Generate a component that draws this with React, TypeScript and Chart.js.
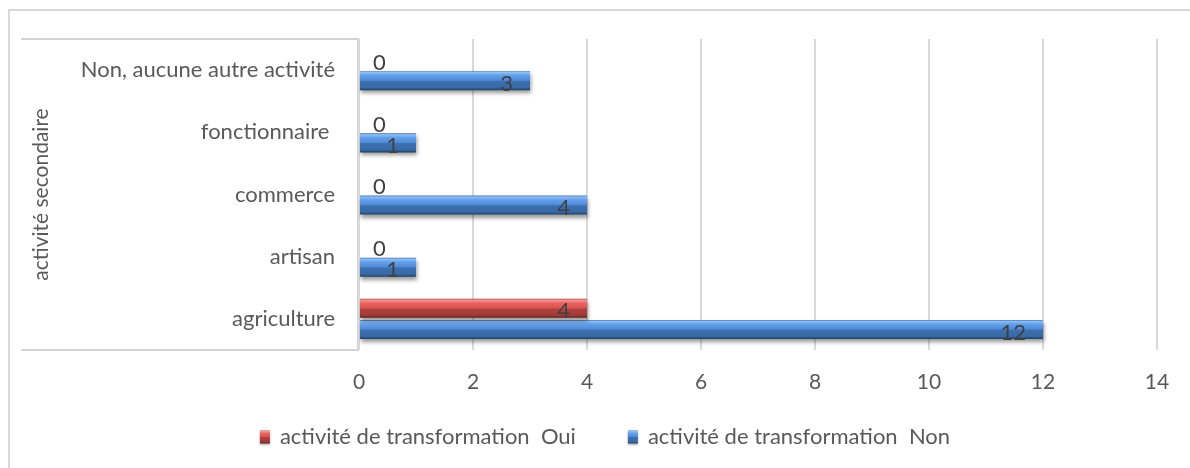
import { useEffect, useRef } from "react";
import { Chart, registerables } from "chart.js";

Chart.register(...registerables);

const categories = ["Non, aucune autre activité", "fonctionnaire ", "commerce", "artisan", "agriculture"];
const seriesNames = ["activité de transformation  Oui", "activité de transformation  Non"];
const ouiValues = [0, 0, 0, 0, 4];
const nonValues = [3, 1, 4, 1, 12];
const xTicks = [0, 2, 4, 6, 8, 10, 12, 14];
const axisTitle = "activité secondaire";

const FONT = "Lato, 'DejaVu Sans', sans-serif";
const FONT_SIZE = 22;
const TEXT = "#595959";
const LABEL = "#404040";
const LINE = "#d9d9d9";

const redStops: [number, string][] = [
  [0, "#a94442"], [0.07, "#f49896"], [0.22, "#ea6461"], [0.48, "#d9534f"],
  [0.54, "#b0413e"], [0.86, "#a03b38"], [1, "#5e1e1c"],
];
const blueStops: [number, string][] = [
  [0, "#3f6fae"], [0.07, "#8ebff5"], [0.22, "#63a0ea"], [0.48, "#4f8ad6"],
  [0.54, "#3d6fb0"], [0.86, "#386aa6"], [1, "#1f3d63"],
];
const palettes = [redStops, blueStops];
const flatColors = ["#c0504d", "#4f81bd"];

function makeGradient(ctx: CanvasRenderingContext2D, top: number, h: number, stops: [number, string][]) {
  const g = ctx.createLinearGradient(0, top, 0, top + h);
  stops.forEach(([o, c]) => g.addColorStop(o, c));
  return g;
}

const decorPlugin = {
  id: "decor",
  beforeDraw(chart: any) {
    const ctx = chart.ctx as CanvasRenderingContext2D;
    const { top, bottom, left } = chart.chartArea;
    ctx.save();
    ctx.fillStyle = "#ffffff";
    ctx.fillRect(0, 0, chart.width, chart.height);
    ctx.strokeStyle = LINE;
    ctx.lineWidth = 2;
    ctx.beginPath();
    ctx.moveTo(9, chart.height);
    ctx.lineTo(9, 10);
    ctx.lineTo(chart.width, 10);
    ctx.stroke();
    ctx.strokeStyle = "#d4d4d4";
    ctx.lineWidth = 2;
    ctx.beginPath();
    ctx.moveTo(21, top);
    ctx.lineTo(left - 1, top);
    ctx.lineTo(left - 1, bottom);
    ctx.lineTo(21, bottom);
    ctx.stroke();
    ctx.fillStyle = TEXT;
    ctx.font = `${FONT_SIZE - 1}px ${FONT}`;
    ctx.textAlign = "center";
    ctx.textBaseline = "middle";
    ctx.translate(41, (top + bottom) / 2);
    ctx.rotate(-Math.PI / 2);
    ctx.fillText(axisTitle, 0, 0);
    ctx.restore();
  },
  beforeDatasetsDraw(chart: any) {
    const ctx = chart.ctx as CanvasRenderingContext2D;
    chart.data.datasets.forEach((_: any, di: number) => {
      const meta = chart.getDatasetMeta(di);
      meta.data.forEach((el: any) => {
        const { y, height } = el.getProps(["y", "height"], true);
        el.options.backgroundColor = makeGradient(ctx, y - height / 2, height, palettes[di]);
      });
    });
    ctx.save();
    ctx.shadowColor = "rgba(0,0,0,0.4)";
    ctx.shadowBlur = 4;
    ctx.shadowOffsetY = 3;
    ctx.shadowOffsetX = 1;
  },
  afterDatasetsDraw(chart: any) {
    const ctx = chart.ctx as CanvasRenderingContext2D;
    ctx.restore();
    ctx.save();
    ctx.font = `${FONT_SIZE}px ${FONT}`;
    ctx.fillStyle = LABEL;
    ctx.textBaseline = "middle";
    chart.data.datasets.forEach((ds: any, di: number) => {
      const meta = chart.getDatasetMeta(di);
      meta.data.forEach((el: any, i: number) => {
        const v = ds.data[i];
        const { x, y, base } = el.getProps(["x", "y", "base"], true);
        if (v > 0) {
          ctx.textAlign = "right";
          ctx.fillText(String(v), x - 17, y + 3);
        } else {
          ctx.textAlign = "left";
          ctx.fillText(String(v), base + 14, y + 3);
        }
      });
    });
    ctx.restore();
  },
  afterDraw(chart: any) {
    const ctx = chart.ctx as CanvasRenderingContext2D;
    ctx.save();
    ctx.font = `${FONT_SIZE}px ${FONT}`;
    ctx.textBaseline = "middle";
    ctx.textAlign = "left";
    const box = 10;
    const boxH = 13;
    const gap = 10;
    const itemGap = 52;
    const widths = seriesNames.map((n) => box + gap + ctx.measureText(n).width);
    const total = widths.reduce((a, b) => a + b, 0) + itemGap * (seriesNames.length - 1);
    let x = chart.width / 2 + 10 - total / 2;
    const cy = 437;
    seriesNames.forEach((n, i) => {
      ctx.shadowColor = "rgba(0,0,0,0.3)";
      ctx.shadowBlur = 2;
      ctx.shadowOffsetY = 1;
      ctx.fillStyle = makeGradient(ctx, cy - boxH / 2, boxH, palettes[i]);
      ctx.fillRect(x, cy - boxH / 2, box, boxH);
      ctx.shadowColor = "transparent";
      ctx.fillStyle = TEXT;
      ctx.fillText(n, x + box + gap, cy);
      x += widths[i] + itemGap;
    });
    ctx.restore();
  },
};

export default function App() {
  const ref = useRef<HTMLCanvasElement | null>(null);
  useEffect(() => {
    if (!ref.current) return;
    const chart = new Chart(ref.current, {
      type: "bar",
      data: {
        labels: categories,
        datasets: [
          { label: seriesNames[0], data: ouiValues, backgroundColor: () => flatColors[0], borderWidth: 0, categoryPercentage: 0.68, barPercentage: 0.9 },
          { label: seriesNames[1], data: nonValues, backgroundColor: () => flatColors[1], borderWidth: 0, categoryPercentage: 0.68, barPercentage: 0.9 },
        ],
      },
      options: {
        animation: false,
        responsive: false,
        devicePixelRatio: 1,
        indexAxis: "y",
        layout: { padding: { left: 0, right: 33, top: 39, bottom: 78 } },
        plugins: {
          legend: { display: false },
          tooltip: { enabled: false },
          title: { display: false },
        },
        scales: {
          x: {
            min: 0,
            max: 14,
            afterBuildTicks: (s: any) => {
              s.ticks = xTicks.map((v) => ({ value: v }));
            },
            ticks: { color: TEXT, font: { family: FONT, size: FONT_SIZE - 1 }, padding: 20 },
            grid: { color: LINE, lineWidth: 2, drawTicks: false },
            border: { display: false },
            afterFit: (s: any) => {
              s.height = 40;
            },
          },
          y: {
            ticks: { color: TEXT, font: { family: FONT, size: FONT_SIZE }, padding: 24 },
            grid: { display: false, drawTicks: false },
            border: { display: false },
            afterFit: (s: any) => {
              s.width = 359;
            },
          },
        },
      },
      plugins: [decorPlugin],
    } as any);
    return () => chart.destroy();
  }, []);
  return (
    <div style={{ position: "fixed", left: 0, top: 0, width: 1190, height: 468, background: "#fff" }}>
      <canvas ref={ref} width={1190} height={468} style={{ display: "block" }} />
    </div>
  );
}
